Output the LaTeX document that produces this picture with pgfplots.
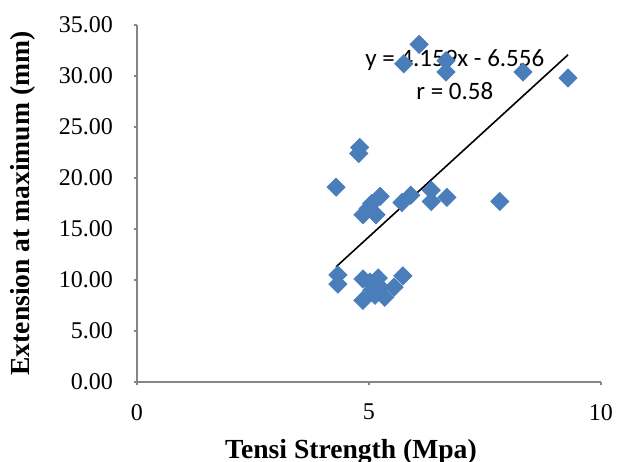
\documentclass[border=0pt]{standalone}
\usepackage{pgfplots}
\pgfplotsset{compat=1.18}
\usepackage{fontspec}
\setmainfont{Liberation Serif}
\newfontfamily\calibri{Carlito}
\definecolor{excelblue}{RGB}{74,126,187}
\definecolor{axisgray}{RGB}{134,134,134}

\begin{document}
\begin{tikzpicture}
\useasboundingbox (-68.5pt,-40pt) rectangle (240.5pt,191pt);
\begin{axis}[
  at={(0,0)}, anchor=south west,
  scale only axis,
  width=232pt,
  height=178.5pt,
  xmin=0, xmax=10,
  ymin=0, ymax=35,
  xtick={0,5,10},
  ytick={0,5,...,35},
  yticklabel style={xshift=-7pt, /pgf/number format/.cd,fixed,fixed zerofill,precision=2},
  /pgf/number format/assume math mode=true,
  axis lines=left,
  axis line style={-, axisgray, line width=0.8pt},
  tick style={axisgray, line width=0.8pt},
  tick align=outside,
  major tick length=1.5pt,
  ticklabel style={font=\fontsize{12}{14}\selectfont},
  xticklabel style={yshift=-6pt},
  xlabel={\textbf{Tensi Strength (Mpa)}},
  ylabel={\textbf{Extension at maximum (mm)}},
  label style={font=\fontsize{13.8}{16}\selectfont},
  xlabel style={at={([xshift=-9pt,yshift=-35pt]axis description cs:0.5,0)}, anchor=center},
  ylabel style={at={([xshift=-57pt]axis description cs:0,0.5)}, anchor=center},
  clip=false]
\addplot[only marks, mark=square*, mark size=3.2pt,
  mark options={rotate=45, fill=excelblue, draw=excelblue}] coordinates {
 (4.29,19.1) (4.80,23.0) (4.78,22.4) (6.08,33.1) (5.75,31.2) (6.66,31.5)
 (6.66,30.4) (8.32,30.4) (9.29,29.8)
 (5.24,18.2) (5.06,17.5) (4.98,17.0) (4.87,16.4) (5.15,16.4) (5.71,17.6)
 (5.90,18.3) (6.34,18.8) (6.34,17.7) (6.68,18.1) (7.82,17.7)
 (4.33,10.5) (4.33,9.6) (4.87,10.1) (4.87,8.0) (5.20,10.2) (5.24,9.3)
 (5.06,9.0) (5.34,8.3) (5.54,9.3) (5.73,10.4) (5.02,9.8) (5.13,8.5)
};
\addplot[black, thick, no marks] coordinates {(4.29,11.29) (9.29,32.08)};
\node[font=\calibri\fontsize{12.5}{14}\selectfont] at (axis cs:6.85,31.6) {y = 4.159x - 6.556};
\node[font=\calibri\fontsize{12.5}{14}\selectfont] at (axis cs:6.85,28.5) {r = 0.58};
\end{axis}
\end{tikzpicture}
\end{document}
